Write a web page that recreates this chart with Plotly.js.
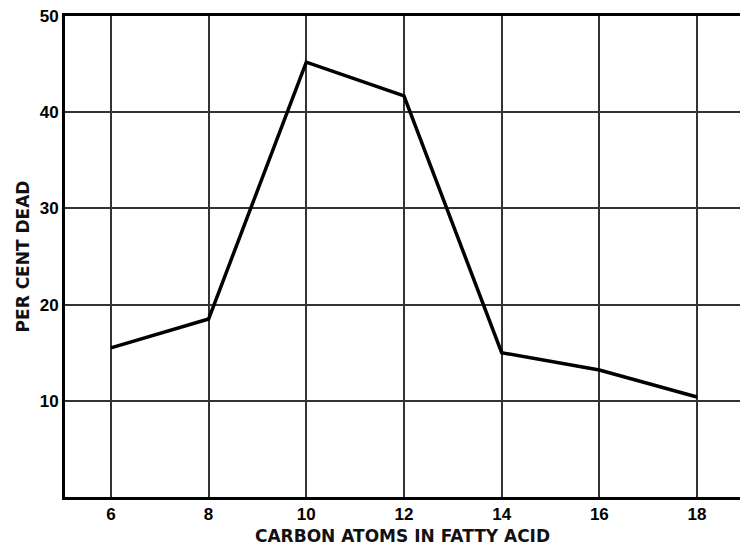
<!DOCTYPE html>
<html>
<head>
<meta charset="utf-8">
<script src="https://cdn.plot.ly/plotly-3.0.1.min.js"></script>
<style>html,body{margin:0;padding:0;background:#fff;}#chart{width:740px;height:547px;}</style>
</head>
<body>
<div id="chart"></div>
<script>
const carbonAtoms = [6, 8, 10, 12, 14, 16, 18];
const perCentDead = [15.5, 18.5, 45.2, 41.7, 15.0, 13.2, 10.4];
const xTicks = [6, 8, 10, 12, 14, 16, 18];
const yTicks = [10, 20, 30, 40, 50];

const trace = {
  x: carbonAtoms, y: perCentDead, type: 'scatter', mode: 'lines',
  line: {color: '#000', width: 3.5}, hoverinfo: 'skip'
};

const tickFont = {size: 17, family: 'Liberation Sans, Arial, sans-serif', weight: 'bold', color: '#000'};
const titleFont = {size: 17, family: 'DejaVu Sans, sans-serif', weight: 'bold', color: '#111'};

const layout = {
  width: 740, height: 547,
  margin: {l: 65, r: 0, t: 16, b: 50},
  paper_bgcolor: '#fff', plot_bgcolor: '#fff',
  showlegend: false,
  hovermode: false,
  font: {family: 'Liberation Sans, Arial, sans-serif', color: '#000'},
  xaxis: {
    range: [5.06, 18.88], tickvals: xTicks, ticktext: xTicks.map(String),
    showgrid: true, gridcolor: '#333', gridwidth: 2,
    showline: true, linecolor: '#000', linewidth: 3, mirror: true,
    zeroline: false, ticks: '', ticklen: 0,
    tickfont: tickFont, fixedrange: true,
    title: {text: 'CARBON ATOMS IN FATTY ACID', font: titleFont, standoff: 7}
  },
  yaxis: {
    range: [0, 50], tickvals: yTicks, ticktext: yTicks.map(String),
    showgrid: true, gridcolor: '#333', gridwidth: 2,
    showline: true, linecolor: '#000', linewidth: 3,
    zeroline: false, ticks: '', ticklen: 0,
    tickfont: tickFont, fixedrange: true,
    title: {text: 'PER CENT DEAD', font: titleFont, standoff: 6}
  }
};

Plotly.newPlot('chart', [trace], layout, {displayModeBar: false});
</script>
</body>
</html>
